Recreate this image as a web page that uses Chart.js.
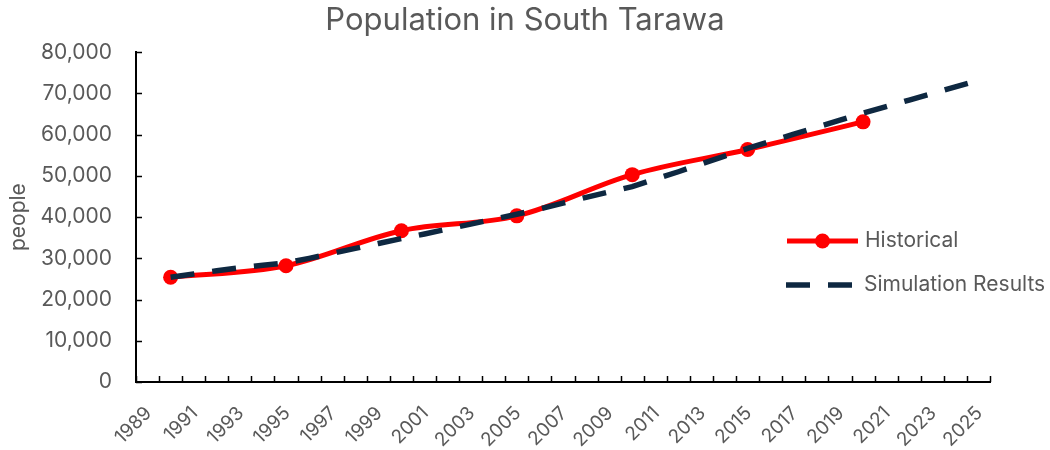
<!DOCTYPE html>
<html lang="en">
<head>
  <meta charset="UTF-8" />
  <title>Population in South Tarawa</title>
  <script src="https://cdn.jsdelivr.net/npm/chart.js"></script>
  <style>
    html, body { margin: 0; padding: 0; background: #fff; }
    .chart-container { width: 1050px; height: 450px; }
  </style>
</head>
<body>
  <div class="chart-container">
    <canvas id="populationChart" width="1050" height="450"></canvas>
  </div>
  <script>
    // x categories (one per year), only odd years get a label
    const yearLabels = [1989, 1990, 1991, 1992, 1993, 1994, 1995, 1996, 1997, 1998,
      1999, 2000, 2001, 2002, 2003, 2004, 2005, 2006, 2007, 2008, 2009, 2010,
      2011, 2012, 2013, 2014, 2015, 2016, 2017, 2018, 2019, 2020, 2021, 2022,
      2023, 2024, 2025];

    const historicalYears = [1990, 1995, 2000, 2005, 2010, 2015, 2020];
    const historicalPeople = [25400, 28200, 36700, 40300, 50300, 56400, 63100];

    const simulationYears = [1990, 1991, 1992, 1993, 1994, 1995, 1996, 1997, 1998,
      1999, 2000, 2001, 2002, 2003, 2004, 2005, 2006, 2007, 2008, 2009, 2010,
      2011, 2012, 2013, 2014, 2015, 2016, 2017, 2018, 2019, 2020, 2021, 2022,
      2023, 2024, 2025];
    const simulationPeople = [25400, 26200, 27000, 27700, 28300, 28900, 30000,
      31200, 32400, 33600, 34800, 35900, 37100, 38300, 39500, 40700, 42000,
      43400, 44800, 46100, 47400, 49200, 51000, 52900, 54800, 56650, 58400,
      60100, 61800, 63500, 65200, 66800, 68400, 70000, 71600, 73200];

    const yTicks = [0, 10000, 20000, 30000, 40000, 50000, 60000, 70000, 80000];

    const FONT = "Inter, 'Open Sans', sans-serif";
    const GREY = '#595959';

    // inward tick marks + legend drawn inside the plot area
    const insideMarks = {
      id: 'insideMarks',
      afterDraw(chart) {
        const ctx = chart.ctx;
        const xs = chart.scales.x;
        const ys = chart.scales.y;
        const area = chart.chartArea;
        ctx.save();
        ctx.strokeStyle = '#000';
        ctx.lineWidth = 1.5;
        ctx.beginPath();
        const half = (xs.getPixelForValue(1) - xs.getPixelForValue(0)) / 2;
        for (let i = 0; i <= yearLabels.length; i++) {
          const px = Math.round(xs.getPixelForValue(i) - half) + 0.5;
          ctx.moveTo(px, area.bottom);
          ctx.lineTo(px, area.bottom - 6);
        }
        ys.ticks.forEach(t => {
          const py = Math.round(ys.getPixelForValue(t.value)) + 0.5;
          ctx.moveTo(area.left, py);
          ctx.lineTo(area.left + 6, py);
        });
        ctx.stroke();

        // legend
        const hist = chart.data.datasets[0];
        const sim = chart.data.datasets[1];
        ctx.font = '21px ' + FONT;
        ctx.fillStyle = GREY;
        ctx.textBaseline = 'middle';

        ctx.lineWidth = hist.borderWidth;
        ctx.strokeStyle = hist.borderColor;
        ctx.beginPath();
        ctx.moveTo(787, 241);
        ctx.lineTo(858, 241);
        ctx.stroke();
        ctx.fillStyle = hist.pointBackgroundColor;
        ctx.beginPath();
        ctx.arc(822.5, 241, hist.pointRadius, 0, Math.PI * 2);
        ctx.fill();
        ctx.fillStyle = GREY;
        ctx.fillText(hist.label, 865, 241);

        ctx.lineWidth = sim.borderWidth;
        ctx.strokeStyle = sim.borderColor;
        ctx.setLineDash(sim.borderDash);
        ctx.beginPath();
        ctx.moveTo(786, 285);
        ctx.lineTo(853, 285);
        ctx.stroke();
        ctx.setLineDash([]);
        ctx.fillText(sim.label, 864, 285);
        ctx.restore();
      }
    };

    const ctx = document.getElementById('populationChart').getContext('2d');
    new Chart(ctx, {
      type: 'line',
      data: {
        labels: yearLabels,
        datasets: [{
          label: 'Historical',
          data: historicalYears.map((yr, i) => ({ x: yr, y: historicalPeople[i] })),
          borderColor: '#ff0000',
          backgroundColor: '#ff0000',
          pointBackgroundColor: '#ff0000',
          pointBorderWidth: 0,
          borderWidth: 5,
          pointRadius: 7.5,
          tension: 0.35,
          order: 1
        }, {
          label: 'Simulation Results',
          data: simulationYears.map((yr, i) => ({ x: yr, y: simulationPeople[i] })),
          borderColor: '#0e2841',
          borderWidth: 5.5,
          borderDash: [24, 18],
          borderCapStyle: 'butt',
          pointRadius: 0,
          tension: 0,
          order: 0
        }]
      },
      options: {
        responsive: false,
        animation: false,
        scales: {
          x: {
            type: 'category',
            offset: true,
            grid: { display: false, drawTicks: false },
            border: { display: true, color: '#000', width: 2 },
            ticks: {
              autoSkip: false,
              minRotation: 45,
              maxRotation: 45,
              padding: 20,
              labelOffset: 1,
              color: GREY,
              font: { family: FONT, size: 19 },
              callback: (val, i) => (yearLabels[i] % 2 === 1 ? String(yearLabels[i]) : '')
            },
            afterFit: scale => { scale.height = 68; }
          },
          y: {
            min: 0,
            max: 80000,
            grid: { display: false, drawTicks: false },
            border: { display: true, color: '#000', width: 2 },
            afterBuildTicks: scale => { scale.ticks = yTicks.map(v => ({ value: v })); },
            ticks: {
              padding: 24,
              color: GREY,
              font: { family: FONT, size: 21 },
              callback: v => v.toLocaleString('en-US')
            },
            title: {
              display: true,
              text: 'people',
              color: GREY,
              font: { family: FONT, size: 21 },
              padding: { top: 6, bottom: 0 }
            },
            afterFit: scale => { scale.width = 136; }
          },
          // empty right-hand strip so the plot stops short of the edge
          spacer: {
            type: 'linear',
            position: 'right',
            grid: { display: false, drawTicks: false },
            border: { display: false },
            ticks: { display: false },
            afterFit: scale => { scale.width = 60; }
          }
        },
        plugins: {
          legend: { display: false },
          tooltip: { enabled: false },
          title: {
            display: true,
            text: 'Population in South Tarawa',
            color: GREY,
            font: { family: FONT, size: 31, weight: 'normal' },
            padding: { top: 2, bottom: 13 }
          }
        }
      },
      plugins: [insideMarks]
    });
  </script>
</body>
</html>
